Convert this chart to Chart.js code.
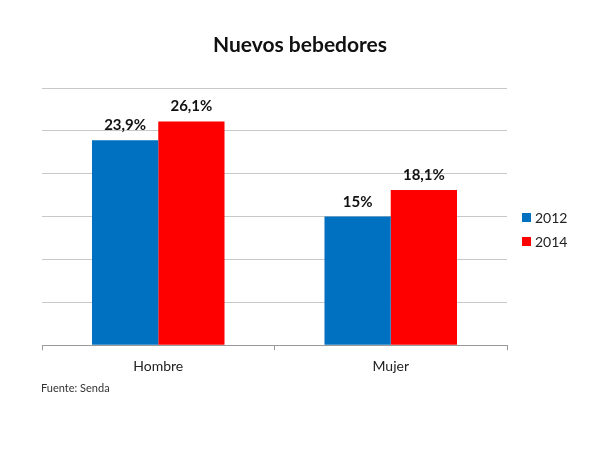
<!DOCTYPE html>
<html>
<head>
<meta charset="utf-8">
<script src="https://cdn.jsdelivr.net/npm/chart.js@4"></script>
<style>
  html, body { margin: 0; padding: 0; background: #fff; }
  #wrap { width: 600px; height: 454px; }
</style>
</head>
<body>
<div id="wrap"><canvas id="myChart" width="600" height="454"></canvas></div>
<script>
const categories = ['Hombre', 'Mujer'];
const seriesNames = ['2012', '2014'];
const values2012 = [23.9, 15];
const values2014 = [26.1, 18.1];
const colors = ['#0070C0', '#FF0000'];
const titleText = 'Nuevos bebedores';
const sourceText = 'Fuente: Senda';

const FONT = 'Lato, "Open Sans", sans-serif';

// title, value labels, legend and source note
const extras = {
    id: 'extras',
    afterDatasetsDraw(chart) {
        const ctx = chart.ctx;
        ctx.save();
        ctx.fillStyle = '#111';
        ctx.textAlign = 'center';
        ctx.textBaseline = 'alphabetic';
        ctx.font = 'bold 15px ' + FONT;
        chart.data.datasets.forEach((ds, i) => {
            chart.getDatasetMeta(i).data.forEach((bar, j) => {
                const txt = String(ds.data[j]).replace('.', ',') + '%';
                ctx.fillText(txt, bar.x, bar.y - 10);
            });
        });

        ctx.font = 'bold 21px ' + FONT;
        ctx.fillText(titleText, 300, 52);

        ctx.textAlign = 'left';
        ctx.textBaseline = 'middle';
        ctx.font = '14px ' + FONT;
        chart.data.datasets.forEach((ds, i) => {
            const y = 217 + i * 24;
            ctx.fillStyle = ds.backgroundColor;
            ctx.fillRect(522, y - 4, 9, 9);
            ctx.fillStyle = '#222';
            ctx.fillText(ds.label, 535, y + 1);
        });

        ctx.font = '11px ' + FONT;
        ctx.fillStyle = '#333';
        ctx.fillText(sourceText, 41, 388);
        ctx.restore();
    }
};

const ctx = document.getElementById('myChart').getContext('2d');

const myChart = new Chart(ctx, {
    type: 'bar',
    data: {
        labels: categories,
        datasets: [{
            label: seriesNames[0],
            data: values2012,
            backgroundColor: colors[0],
            categoryPercentage: 0.57,
            barPercentage: 1
        }, {
            label: seriesNames[1],
            data: values2014,
            backgroundColor: colors[1],
            categoryPercentage: 0.57,
            barPercentage: 1
        }]
    },
    options: {
        responsive: false,
        maintainAspectRatio: false,
        animation: false,
        layout: {
            padding: {left: 42, right: 93, top: 88, bottom: 71}
        },
        scales: {
            y: {
                min: 0,
                max: 30,
                ticks: {display: false, stepSize: 5},
                border: {display: false},
                grid: {color: '#c8c8c8', drawTicks: false}
            },
            x: {
                offset: true,
                border: {color: '#999'},
                grid: {
                    offset: true,
                    drawOnChartArea: false,
                    drawTicks: true,
                    tickLength: 5,
                    color: '#999'
                },
                ticks: {
                    padding: 8,
                    color: '#222',
                    font: {family: FONT, size: 14}
                }
            }
        },
        plugins: {
            legend: {display: false},
            tooltip: {enabled: false}
        }
    },
    plugins: [extras]
});
</script>
</body>
</html>
